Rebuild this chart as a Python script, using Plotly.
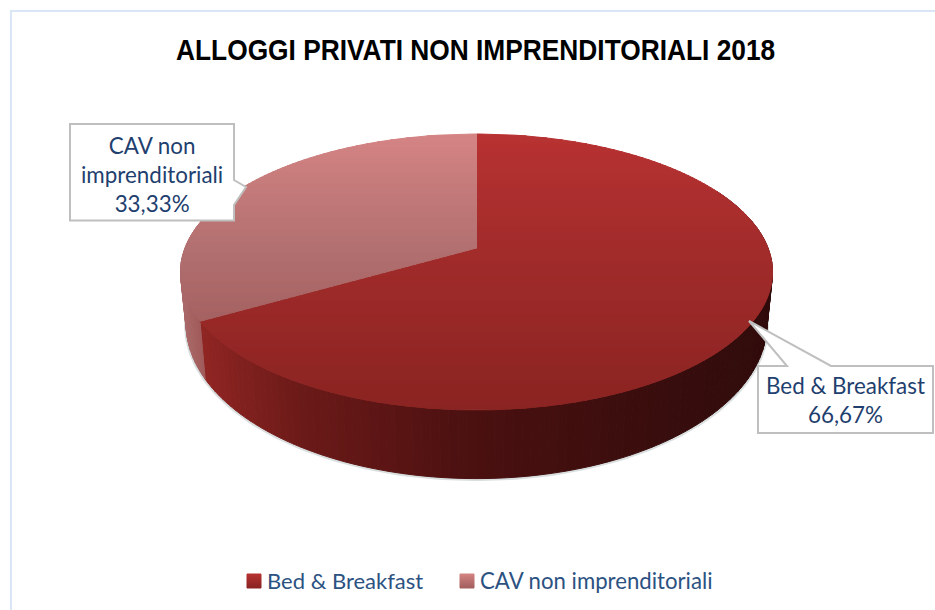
import numpy as np
import plotly.graph_objects as go

# ---- data ----
categories = ["Bed & Breakfast", "CAV non imprenditoriali"]
values = [66.67, 33.33]
value_labels = ["66,67%", "33,33%"]
title_text = "ALLOGGI PRIVATI NON IMPRENDITORIALI 2018"

# ---- geometry of the perspective disc (canvas pixels) ----
W, H = 935, 610
CX, CY, A, B, K = 476.5, 248, 133.8, 291.5, 0.174
CY2, A2, B2 = 297, 150, 286


def project(theta, cy, a, b):
    u, v = np.sin(theta), -np.cos(theta)
    d = 1 - K * v
    return CX + b * u / d, cy + a * v / d


def clip(poly, y0, y1):
    def half(pts, keep, cross):
        out = []
        for i in range(len(pts)):
            p, q = pts[i - 1], pts[i]
            if keep(q):
                if not keep(p):
                    out.append(cross(p, q))
                out.append(q)
            elif keep(p):
                out.append(cross(p, q))
        return out

    def at(y):
        return lambda p, q: (p[0] + (q[0] - p[0]) * (y - p[1]) / (q[1] - p[1]), y)

    pts = half(poly, lambda p: p[1] >= y0, at(y0))
    if pts:
        pts = half(pts, lambda p: p[1] <= y1, at(y1))
    return pts


def lerp_color(stops, t):
    ts = [s[0] for s in stops]
    rgb = [int(round(np.interp(t, ts, [s[1][i] for s in stops]))) for i in range(3)]
    return f"rgb({rgb[0]},{rgb[1]},{rgb[2]})"


fig = go.Figure()


def add_poly(xs, ys, color):
    fig.add_trace(go.Scatter(x=list(xs) + [xs[0]], y=list(ys) + [ys[0]], mode="lines", fill="toself",
                             fillcolor=color, line=dict(color=color, width=1),
                             hoverinfo="skip", showlegend=False))


total = sum(values)
spans = np.array(values) / total * 2 * np.pi
t0, t1 = 0.0, spans[0]

# soft shadow under the wall
th = np.linspace(np.pi * 0.45, np.pi * 1.55, 160)
sx, sy = project(th, CY2 + 1, A2, B2 + 0.5)
fig.add_trace(go.Scatter(x=sx, y=sy, mode="lines", line=dict(color="rgba(120,135,140,0.28)", width=3),
                         hoverinfo="skip", showlegend=False))

# walls
wall_red = [(205, (143, 37, 35)), (300, (107, 26, 24)), (476, (74, 16, 16)), (650, (58, 13, 13)), (770, (48, 11, 11))]
wall_pink = [(184, (170, 104, 104)), (205, (158, 88, 87))]
edges = np.linspace(0, 2 * np.pi, 241)
for a0, a1 in zip(edges[:-1], edges[1:]):
    mid = (a0 + a1) / 2
    if np.pi * 0.35 < mid < np.pi * 1.65:
        xa, ya = project(np.array([a0, a1]), CY, A, B)
        xb, yb = project(np.array([a1, a0]), CY2, A2, B2)
        xm = (xa.mean() + xb.mean()) / 2
        stops = wall_red if mid < t1 else wall_pink
        add_poly(list(xa) + list(xb), list(ya) + list(yb), lerp_color(stops, xm))

# top faces, vertical gradient made of bands
top_red = [(134, (184, 50, 50)), (250, (162, 44, 43)), (410, (138, 36, 34))]
top_pink = [(134, (213, 132, 132)), (250, (178, 112, 112)), (330, (163, 96, 95))]
sectors = [(t0, t1, top_red), (t1, 2 * np.pi, top_pink)]
for s0, s1, stops in sectors:
    th = np.linspace(s0, s1, int((s1 - s0) * 60))
    px, py = project(th, CY, A, B)
    poly = [(CX, CY)] + list(zip(px, py))
    for y in np.arange(130, 414, 2):
        band = clip(poly, y, y + 2)
        if len(band) >= 3:
            add_poly([p[0] for p in band], [p[1] for p in band], lerp_color(stops, y + 1))

# legend swatches with the same gradient
leg_stops = [[(574, (184, 50, 50)), (588, (138, 36, 34))], [(574, (213, 132, 132)), (588, (163, 96, 95))]]
for x0, stops in zip([247, 460], leg_stops):
    for y in range(574, 588):
        add_poly([x0, x0 + 14, x0 + 14, x0], [y, y, y + 1, y + 1], lerp_color(stops, y + 0.5))

TXT = "#1F3F6F"
LEG = "#2C5282"
FONT = "Lato"

shapes = [
    dict(type="path", path=f"M 935 11 L 11 11 L 11 610", line=dict(color="#D9E6F5", width=2)),
    dict(type="path", path="M 70 124 L 234 124 L 234 180 L 246 187 L 234 205 L 234 220.5 L 70 220.5 Z",
         fillcolor="white", line=dict(color="#BFBFBF", width=2)),
    dict(type="path", path="M 758 366 L 787 366 L 749 321 L 831 366 L 933 366 L 933 433 L 758 433 Z",
         fillcolor="white", line=dict(color="#BFBFBF", width=2)),
]

annotations = [
    dict(x=475, y=49, text=f"<b>{title_text}</b>", showarrow=False,
         font=dict(family="Liberation Sans", size=30, color="black")),
    dict(x=152, y=174, text=f"CAV non<br>imprenditoriali<br>{value_labels[1]}", showarrow=False,
         font=dict(family=FONT, size=22.4, color=TXT), align="center"),
    dict(x=845.5, y=400, text=f"{categories[0]}<br>{value_labels[0]}", showarrow=False,
         font=dict(family=FONT, size=22.4, color=TXT), align="center"),
    dict(x=264.5, y=580, text=categories[0], showarrow=False, xanchor="left",
         font=dict(family=FONT, size=22, color=LEG)),
    dict(x=477.5, y=580, text=categories[1], showarrow=False, xanchor="left",
         font=dict(family=FONT, size=22.2, color=LEG)),
]

fig.update_layout(
    width=W, height=H, margin=dict(l=0, r=0, t=0, b=0),
    paper_bgcolor="white", plot_bgcolor="white", showlegend=False,
    xaxis=dict(range=[0, W], visible=False, fixedrange=True),
    yaxis=dict(range=[H, 0], visible=False, fixedrange=True),
    shapes=shapes, annotations=annotations,
)
fig.write_html("out.html", config={"displayModeBar": False},
               post_script=("document.body.style.margin='0';document.documentElement.style.overflow='hidden';"
                            "var t=document.querySelector('.annotation');"
                            "if(t){t.setAttribute('transform','translate(475,0) scale(0.877,1) translate(-475,0)');}"))
